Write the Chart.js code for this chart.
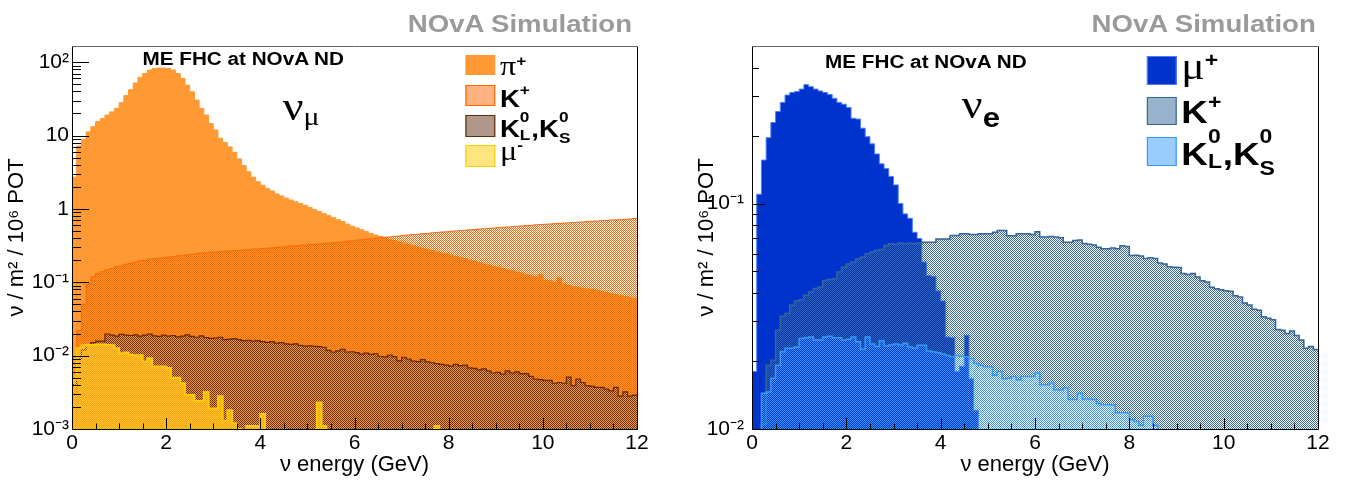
<!DOCTYPE html>
<html><head><meta charset="utf-8">
<script src="https://cdn.jsdelivr.net/npm/chart.js@4.4.0/dist/chart.umd.min.js"></script>
<style>
html,body{margin:0;padding:0;background:#fff;}
body{width:1356px;height:482px;overflow:hidden;position:relative;}
canvas{position:absolute;top:0;}
#wrap{position:absolute;left:0;top:0;width:1180px;height:482px;transform:scaleX(1.14915);transform-origin:0 0;pointer-events:none;}
.t{position:absolute;white-space:nowrap;font-family:'Liberation Sans',Arial,Helvetica,sans-serif;color:#000;}
.sim{font-weight:bold;font-size:24px;line-height:24px;color:#9a9a9a;}
.me{font-weight:bold;font-size:18px;line-height:18px;}
.ser{font-family:'Liberation Serif','DejaVu Serif',serif;font-weight:normal;}
.b{font-weight:bold;}
.box{position:absolute;box-sizing:border-box;}
.ss{display:inline-block;position:relative;height:1px;vertical-align:baseline;}
.ss span{position:absolute;left:0;font-weight:bold;}
</style></head>
<body>
<canvas id="cNumu" width="678" height="482" style="left:0"></canvas>
<canvas id="cNue" width="678" height="482" style="left:678px"></canvas>
<div id="wrap">
  <div class="t sim" style="right:630px;top:12px;">NOvA Simulation</div>
  <div class="t sim" style="right:35px;top:12px;">NOvA Simulation</div>

  <div class="t me" style="left:124px;top:50px;">ME FHC at NOvA ND</div>
  <div class="t me" style="left:718px;top:53px;">ME FHC at NOvA ND</div>

  <div class="t" style="left:246px;top:86px;font-size:40px;line-height:40px;"><span class="ser">ν</span><span class="ser" style="font-size:26px;position:relative;top:5px;">μ</span></div>
  <div class="t" style="left:837px;top:84px;font-size:40px;line-height:40px;"><span class="ser">ν</span><span class="b" style="font-size:27px;position:relative;top:9px;">e</span></div>

  <!-- numu legend -->
  <div class="box" style="left:404.6px;top:55px;width:26px;height:20px;background:#FF9933;"></div>
  <div class="box" style="left:404.6px;top:85px;width:26px;height:21px;background:#FFB380;border:1px solid #FF6600;"></div>
  <div class="box" style="left:404.6px;top:115px;width:26px;height:22px;background:#B0978A;border:1px solid #5a2d0c;"></div>
  <div class="box" style="left:404.6px;top:145px;width:26px;height:22px;background:#FFE680;border:1px solid #FFCC00;"></div>

  <div class="t" style="left:435px;top:52px;font-size:28px;line-height:28px;"><span class="ser">π</span><span class="b" style="font-size:15px;position:relative;top:-9px;">+</span></div>
  <div class="t b" style="left:435px;top:87px;font-size:24px;line-height:24px;">K<span style="font-size:15px;position:relative;top:-12px;">+</span></div>
  <div class="t b" style="left:435px;top:117px;font-size:24px;line-height:24px;">K<span class="ss" style="width:10px;font-size:15px;line-height:15px;"><span style="top:-27px;">0</span><span style="top:-9px;">L</span></span>,K<span class="ss" style="width:10px;font-size:15px;line-height:15px;"><span style="top:-27px;">0</span><span style="top:-6px;">S</span></span></div>
  <div class="t" style="left:435px;top:137px;font-size:28px;line-height:28px;"><span class="ser">μ</span><span class="b" style="font-size:15px;position:relative;top:-10px;">-</span></div>

  <!-- nue legend -->
  <div class="box" style="left:998px;top:56px;width:26px;height:29px;background:#0033CC;border:1px solid #4f7fff;"></div>
  <div class="box" style="left:998px;top:97px;width:26px;height:28px;background:#99B2CC;border:1px solid #336699;"></div>
  <div class="box" style="left:998px;top:137px;width:26px;height:29px;background:#99CCFF;border:1px solid #3399FF;"></div>

  <div class="t" style="left:1028px;top:47px;font-size:38px;line-height:38px;"><span class="ser">μ</span><span class="b" style="font-size:20px;position:relative;top:-12px;">+</span></div>
  <div class="t b" style="left:1028px;top:96px;font-size:32px;line-height:32px;">K<span style="font-size:20px;position:relative;top:-14px;">+</span></div>
  <div class="t b" style="left:1028px;top:138px;font-size:32px;line-height:32px;">K<span class="ss" style="width:13px;font-size:20px;line-height:20px;"><span style="top:-38px;">0</span><span style="top:-13px;">L</span></span>,K<span class="ss" style="width:13px;font-size:20px;line-height:20px;"><span style="top:-38px;">0</span><span style="top:-6px;">S</span></span></div>
</div>

<script>
// ---------------- data (bin width 0.1 GeV, 120 bins from 0 to 12 GeV) ----------------
const BIN_WIDTH = 0.1;
const E_MIN = 0, E_MAX = 12;

const X_TICK_VALUES = [0, 2, 4, 6, 8, 10, 12];
const X_TICK_LABELS = ['0', '2', '4', '6', '8', '10', '12'];

const NUMU_Y_RANGE = [1e-3, 166];
const NUMU_Y_TICK_VALUES = [1e-3, 1e-2, 1e-1, 1, 10, 100];
const NUMU_Y_TICK_LABELS = ['10⁻³', '10⁻²', '10⁻¹', '1', '10', '10²'];

const NUE_Y_RANGE = [1e-2, 0.5];
const NUE_Y_TICK_VALUES = [1e-2, 1e-1];
const NUE_Y_TICK_LABELS = ['10⁻²', '10⁻¹'];

// numu panel
const NUMU_PIPLUS = [
 2.7, 7.2, 8.9, 11.2, 13.2, 15.5, 17, 19, 21, 23.4,
 28, 35, 42, 52, 62, 70, 78, 82, 83, 83,
 82, 78, 70, 60, 48.6, 39.4, 30.4, 23.4, 19, 14.6,
 11.9, 9.2, 8.0, 7.0, 5.9, 4.8, 3.9, 3.2, 2.7, 2.35,
 2.1, 1.9, 1.75, 1.6, 1.5, 1.4, 1.32, 1.25, 1.18, 1.12,
 1.05, 0.98, 0.92, 0.86, 0.81, 0.76, 0.71, 0.67, 0.62, 0.58,
 0.55, 0.52, 0.49, 0.46, 0.44, 0.42, 0.40, 0.385, 0.37, 0.355,
 0.34, 0.33, 0.315, 0.30, 0.29, 0.28, 0.27, 0.26, 0.25, 0.245,
 0.235, 0.225, 0.215, 0.21, 0.20, 0.195, 0.185, 0.178, 0.172, 0.165,
 0.16, 0.155, 0.148, 0.143, 0.138, 0.133, 0.128, 0.122, 0.118, 0.128,
 0.107, 0.105, 0.10, 0.115, 0.095, 0.09, 0.087, 0.085, 0.083, 0.081,
 0.08, 0.078, 0.075, 0.073, 0.07, 0.068, 0.066, 0.064, 0.062, 0.06
];
const NUMU_KPLUS = [
 0.003, 0.022, 0.050, 0.095, 0.118, 0.131, 0.139, 0.149, 0.154, 0.163,
 0.167, 0.176, 0.181, 0.188, 0.196, 0.199, 0.206, 0.209, 0.213, 0.215,
 0.221, 0.224, 0.229, 0.231, 0.237, 0.240, 0.244, 0.251, 0.252, 0.256,
 0.257, 0.261, 0.264, 0.265, 0.271, 0.272, 0.276, 0.277, 0.283, 0.284,
 0.289, 0.291, 0.294, 0.299, 0.301, 0.304, 0.311, 0.312, 0.319, 0.321,
 0.326, 0.329, 0.334, 0.337, 0.343, 0.345, 0.351, 0.355, 0.363, 0.366,
 0.375, 0.379, 0.387, 0.391, 0.399, 0.403, 0.411, 0.415, 0.423, 0.427,
 0.436, 0.441, 0.447, 0.451, 0.459, 0.463, 0.471, 0.475, 0.483, 0.487,
 0.495, 0.501, 0.507, 0.511, 0.519, 0.523, 0.531, 0.535, 0.543, 0.547,
 0.555, 0.561, 0.567, 0.571, 0.579, 0.585, 0.593, 0.597, 0.606, 0.611,
 0.617, 0.622, 0.629, 0.634, 0.641, 0.646, 0.652, 0.658, 0.664, 0.671,
 0.678, 0.683, 0.691, 0.697, 0.703, 0.709, 0.716, 0.722, 0.729, 0.740
];
const NUMU_K0 = [
 0.004, 0.009, 0.012, 0.014, 0.015, 0.0158, 0.0158, 0.0197, 0.019, 0.0185,
 0.0195, 0.019, 0.0188, 0.0192, 0.0185, 0.019, 0.0197, 0.0186, 0.0183, 0.019,
 0.0185, 0.0188, 0.018, 0.0185, 0.0192, 0.0183, 0.0178, 0.0186, 0.0176, 0.0172,
 0.0174, 0.0178, 0.0165, 0.0168, 0.017, 0.0165, 0.016, 0.0162, 0.0158, 0.016,
 0.0155, 0.0152, 0.0155, 0.0148, 0.015, 0.0145, 0.0142, 0.0145, 0.0138, 0.0135,
 0.0136, 0.0134, 0.0133, 0.013, 0.0118, 0.0112, 0.0116, 0.0122, 0.0112, 0.0113,
 0.011, 0.0105, 0.0108, 0.0104, 0.0106, 0.0098, 0.0096, 0.0102, 0.0097, 0.0085,
 0.0095, 0.009, 0.0084, 0.0083, 0.0088, 0.0082, 0.008, 0.0078, 0.0076, 0.0074,
 0.0072, 0.0076, 0.0073, 0.0074, 0.0068, 0.0067, 0.0064, 0.0066, 0.0062, 0.0058,
 0.0059, 0.0056, 0.0062, 0.0058, 0.006, 0.0057, 0.0057, 0.0052, 0.0048, 0.0047,
 0.0046, 0.0046, 0.0042, 0.0043, 0.0042, 0.0051, 0.0039, 0.0048, 0.0043, 0.0039,
 0.0038, 0.0037, 0.0037, 0.0035, 0.0033, 0.0037, 0.0028, 0.0032, 0.0028, 0.0029
];
const NUMU_MUMINUS = [
 0.0047, 0.0126, 0.0138, 0.014, 0.014, 0.0142, 0.0142, 0.014, 0.0138, 0.0126,
 0.0108, 0.011, 0.0103, 0.0101, 0.0101, 0.0083, 0.0092, 0.0071, 0.0071, 0.0071,
 0.0068, 0.005, 0.005, 0.0042, 0.0029, 0.0029, 0.0024, 0.0024, 0.0032, 0.0019,
 0.0019, 0.0028, 0.0013, 0.0018, 0.0012, 0.001, 0, 0.0011, 0.0011, 0.0011,
 0.0016, 0, 0, 0, 0, 0, 0, 0, 0, 0,
 0, 0, 0.0023, 0.0011, 0, 0, 0, 0, 0, 0,
 0, 0, 0, 0, 0, 0, 0, 0, 0, 0,
 0, 0, 0, 0, 0, 0, 0, 0.0011, 0, 0,
 0, 0, 0, 0, 0, 0, 0, 0, 0, 0,
 0, 0, 0, 0, 0, 0, 0, 0, 0, 0,
 0, 0, 0, 0, 0, 0, 0, 0, 0, 0,
 0, 0, 0, 0, 0, 0, 0, 0, 0, 0
];

// nue panel
const NUE_MUPLUS = [
 0.018, 0.110, 0.156, 0.196, 0.229, 0.256, 0.281, 0.303, 0.311, 0.314,
 0.322, 0.337, 0.330, 0.322, 0.316, 0.311, 0.305, 0.293, 0.281, 0.276,
 0.267, 0.239, 0.237, 0.216, 0.198, 0.184, 0.166, 0.150, 0.143, 0.132,
 0.121, 0.100, 0.090, 0.086, 0.0746, 0.070, 0.055, 0.048, 0.0475, 0.041,
 0.037, 0.0256, 0.0254, 0.018, 0.019, 0.026, 0.0167, 0.0121, 0, 0,
 0, 0, 0, 0, 0, 0, 0, 0, 0, 0,
 0, 0, 0, 0, 0, 0, 0, 0, 0, 0,
 0, 0, 0, 0, 0, 0, 0, 0, 0, 0,
 0, 0, 0, 0, 0, 0, 0, 0, 0, 0,
 0, 0, 0, 0, 0, 0, 0, 0, 0, 0,
 0, 0, 0, 0, 0, 0, 0, 0, 0, 0,
 0, 0, 0, 0, 0, 0, 0, 0, 0, 0
];
const NUE_KPLUS = [
 0, 0.005, 0.0105, 0.0192, 0.0202, 0.0274, 0.0316, 0.0325, 0.0354, 0.037,
 0.0374, 0.0392, 0.0405, 0.042, 0.0427, 0.0456, 0.046, 0.0464, 0.0497, 0.0522,
 0.054, 0.055, 0.0569, 0.058, 0.0599, 0.061, 0.062, 0.0625, 0.0651, 0.0664,
 0.066, 0.0668, 0.0664, 0.0667, 0.0664, 0.0668, 0.0674, 0.0674, 0.0674, 0.0697,
 0.0697, 0.0697, 0.0722, 0.0722, 0.0734, 0.0734, 0.073, 0.073, 0.0734, 0.0734,
 0.0734, 0.0746, 0.076, 0.076, 0.072, 0.072, 0.0735, 0.0735, 0.0735, 0.073,
 0.075, 0.071, 0.071, 0.0715, 0.071, 0.0705, 0.0674, 0.0674, 0.0686, 0.069,
 0.0665, 0.066, 0.0655, 0.064, 0.063, 0.063, 0.0635, 0.063, 0.065, 0.0645,
 0.0588, 0.059, 0.0585, 0.057, 0.0575, 0.057, 0.0545, 0.054, 0.0525, 0.0522,
 0.052, 0.049, 0.0485, 0.0489, 0.0472, 0.0455, 0.0449, 0.0425, 0.0419, 0.0415,
 0.041, 0.0408, 0.039, 0.0385, 0.0362, 0.0355, 0.034, 0.0336, 0.0315, 0.031,
 0.0305, 0.0276, 0.0274, 0.0265, 0.0272, 0.026, 0.0248, 0.0228, 0.0232, 0.0225
];
const NUE_K0 = [
 0, 0.0095, 0.0144, 0.0146, 0.0168, 0.0192, 0.022, 0.0228, 0.0228, 0.0231,
 0.0252, 0.0254, 0.0256, 0.0248, 0.0248, 0.0256, 0.0258, 0.0254, 0.0254, 0.0248,
 0.025, 0.0256, 0.0244, 0.0226, 0.0256, 0.0238, 0.0232, 0.0246, 0.0234, 0.0236,
 0.0238, 0.0236, 0.024, 0.0231, 0.0228, 0.0235, 0.0235, 0.0222, 0.022, 0.0218,
 0.0215, 0.0212, 0.0209, 0.0212, 0.021, 0.0209, 0.0205, 0.0195, 0.0192, 0.0189,
 0.0189, 0.0173, 0.018, 0.0167, 0.0168, 0.0171, 0.0165, 0.0171, 0.0171, 0.0171,
 0.0177, 0.0157, 0.0157, 0.016, 0.0149, 0.0149, 0.0152, 0.0135, 0.0135, 0.0144,
 0.0136, 0.0136, 0.0135, 0.013, 0.0128, 0.0128, 0.0128, 0.0118, 0.0118, 0.0118,
 0.011, 0.0108, 0.0104, 0.0114, 0.0114, 0.0104, 0, 0, 0, 0,
 0, 0, 0, 0, 0, 0, 0, 0, 0, 0,
 0, 0, 0, 0, 0, 0, 0, 0, 0, 0,
 0, 0, 0, 0, 0, 0, 0, 0, 0, 0
];

// ---------------- drawing ----------------
const FONT = "'Liberation Sans', Arial, Helvetica, sans-serif";

// 50% checkerboard fill (same phase for every series, like ROOT hatch style)
function checker(color) {
  const c = document.createElement('canvas');
  c.width = 2; c.height = 2;
  const g = c.getContext('2d');
  g.fillStyle = color;
  g.fillRect(0, 0, 1, 1);
  g.fillRect(1, 1, 1, 1);
  return g.createPattern(c, 'repeat');
}

function toPoints(values) {
  const pts = values.map((v, i) => ({ x: E_MIN + i * BIN_WIDTH, y: v > 0 ? v : 1e-7 }));
  const last = values[values.length - 1];
  pts.push({ x: E_MIN + values.length * BIN_WIDTH, y: last > 0 ? last : 1e-7 });
  return pts;
}

const framePlugin = {
  id: 'frame',
  afterDatasetsDraw(chart) {
    const o = chart.options.plugins.frame;
    const { ctx, chartArea: a, scales: { x, y } } = chart;
    ctx.save();
    ctx.lineWidth = 1;
    ctx.strokeStyle = '#000';
    ctx.beginPath();
    const lo = Math.floor(Math.log10(y.min)), hi = Math.ceil(Math.log10(y.max));
    for (let d = lo; d <= hi; d++) {
      for (let m = 1; m <= 9; m++) {
        const v = m * Math.pow(10, d);
        if (v < y.min * 0.999 || v > y.max * 1.001) continue;
        const py = Math.round(y.getPixelForValue(v)) + 0.5;
        ctx.moveTo(a.left, py);
        ctx.lineTo(a.left + (m === 1 ? o.yMajor : o.yMinor), py);
      }
    }
    for (let k = 0; k <= 24; k++) {
      const v = k * 0.5;
      const px = Math.round(x.getPixelForValue(v)) + 0.5;
      ctx.moveTo(px, a.bottom);
      ctx.lineTo(px, a.bottom - (k % 4 === 0 ? o.xMajor : o.xMinor));
    }
    ctx.stroke();
    ctx.beginPath();
    ctx.moveTo(Math.round(a.left) + 0.5, a.top);
    ctx.lineTo(Math.round(a.left) + 0.5, Math.round(a.bottom) + 0.5);
    ctx.lineTo(Math.round(a.right) + 0.5, Math.round(a.bottom) + 0.5);
    ctx.lineTo(Math.round(a.right) + 0.5, Math.round(a.top) + 0.5);
    ctx.stroke();
    ctx.strokeStyle = '#666';
    ctx.beginPath();
    ctx.moveTo(a.left, Math.round(a.top) + 0.5);
    ctx.lineTo(a.right, Math.round(a.top) + 0.5);
    ctx.stroke();
    ctx.restore();
  }
};

function makeChart(id, sets, yRange, yTickValues, yTickLabels, g) {
  return new Chart(document.getElementById(id), {
    type: 'line',
    data: {
      datasets: sets.map(s => ({
        label: s.label,
        data: toPoints(s.values),
        order: s.order,
        stepped: true,
        fill: 'start',
        backgroundColor: s.fill,
        borderColor: s.line,
        borderWidth: s.lw,
        pointRadius: 0,
        tension: 0,
        clip: 0
      }))
    },
    options: {
      responsive: false,
      animation: false,
      devicePixelRatio: 1,
      events: [],
      layout: { padding: { top: g.top, right: g.padRight, bottom: 0, left: 0 } },
      plugins: {
        legend: { display: false },
        tooltip: { enabled: false },
        frame: { yMajor: g.yMajor, yMinor: g.yMinor, xMajor: 11, xMinor: 5.5 }
      },
      scales: {
        x: {
          type: 'linear', min: E_MIN, max: E_MAX,
          grid: { display: false, drawTicks: false },
          border: { display: false },
          afterBuildTicks: (s) => { s.ticks = X_TICK_VALUES.map(v => ({ value: v })); },
          ticks: {
            padding: 2, color: '#000', font: { family: FONT, size: 21 },
            maxRotation: 0, autoSkip: false,
            callback: (v) => { const i = X_TICK_VALUES.indexOf(v); return i >= 0 ? X_TICK_LABELS[i] : ''; }
          },
          title: {
            display: true, text: 'ν energy (GeV)', color: '#000',
            font: { family: FONT, size: 22 }, padding: { top: 0, bottom: 4 }
          },
          afterFit: (s) => { s.height = 482 - g.bottom; }
        },
        y: {
          type: 'logarithmic', min: yRange[0], max: yRange[1],
          grid: { display: false, drawTicks: false },
          border: { display: false },
          afterBuildTicks: (s) => { s.ticks = yTickValues.map(v => ({ value: v })); },
          ticks: {
            padding: g.yTickPad, color: '#000', font: { family: FONT, size: 21 }, autoSkip: false,
            callback: (v) => {
              const i = yTickValues.findIndex(t => Math.abs(t - v) / t < 1e-6);
              return i >= 0 ? yTickLabels[i] : '';
            }
          },
          title: {
            display: true, text: 'ν / m² / 10⁶ POT', color: '#000',
            font: { family: FONT, size: 22 }, padding: { top: g.yTitlePad, bottom: 0 }
          },
          afterFit: (s) => { s.width = g.left; }
        }
      }
    },
    plugins: [framePlugin]
  });
}

makeChart('cNumu', [
  { label: 'π+', values: NUMU_PIPLUS, order: 4, fill: '#FF9933', line: '#FF9933', lw: 1 },
  { label: 'K+', values: NUMU_KPLUS, order: 3, fill: checker('#FF6600'), line: '#FF6600', lw: 1 },
  { label: 'K0L,K0S', values: NUMU_K0, order: 2, fill: checker('#5F2F13'), line: '#5a2d0c', lw: 1.2 },
  { label: 'μ-', values: NUMU_MUMINUS, order: 1, fill: checker('#FFCC00'), line: '#FFCC00', lw: 2 }
], NUMU_Y_RANGE, NUMU_Y_TICK_VALUES, NUMU_Y_TICK_LABELS,
  { top: 46, bottom: 429, left: 72, padRight: 41, yTickPad: 3, yTitlePad: 4, yMajor: 17, yMinor: 9 });

makeChart('cNue', [
  { label: 'μ+', values: NUE_MUPLUS, order: 3, fill: '#0033CC', line: '#4f7fff', lw: 1 },
  { label: 'K+', values: NUE_KPLUS, order: 2, fill: checker('#336699'), line: '#336699', lw: 1.5 },
  { label: 'K0L,K0S', values: NUE_K0, order: 1, fill: checker('#3399FF'), line: '#3399FF', lw: 1.5 }
], NUE_Y_RANGE, NUE_Y_TICK_VALUES, NUE_Y_TICK_LABELS,
  { top: 46, bottom: 429, left: 74, padRight: 38, yTickPad: 8, yTitlePad: 16, yMajor: 13, yMinor: 7 });
</script>
</body></html>
